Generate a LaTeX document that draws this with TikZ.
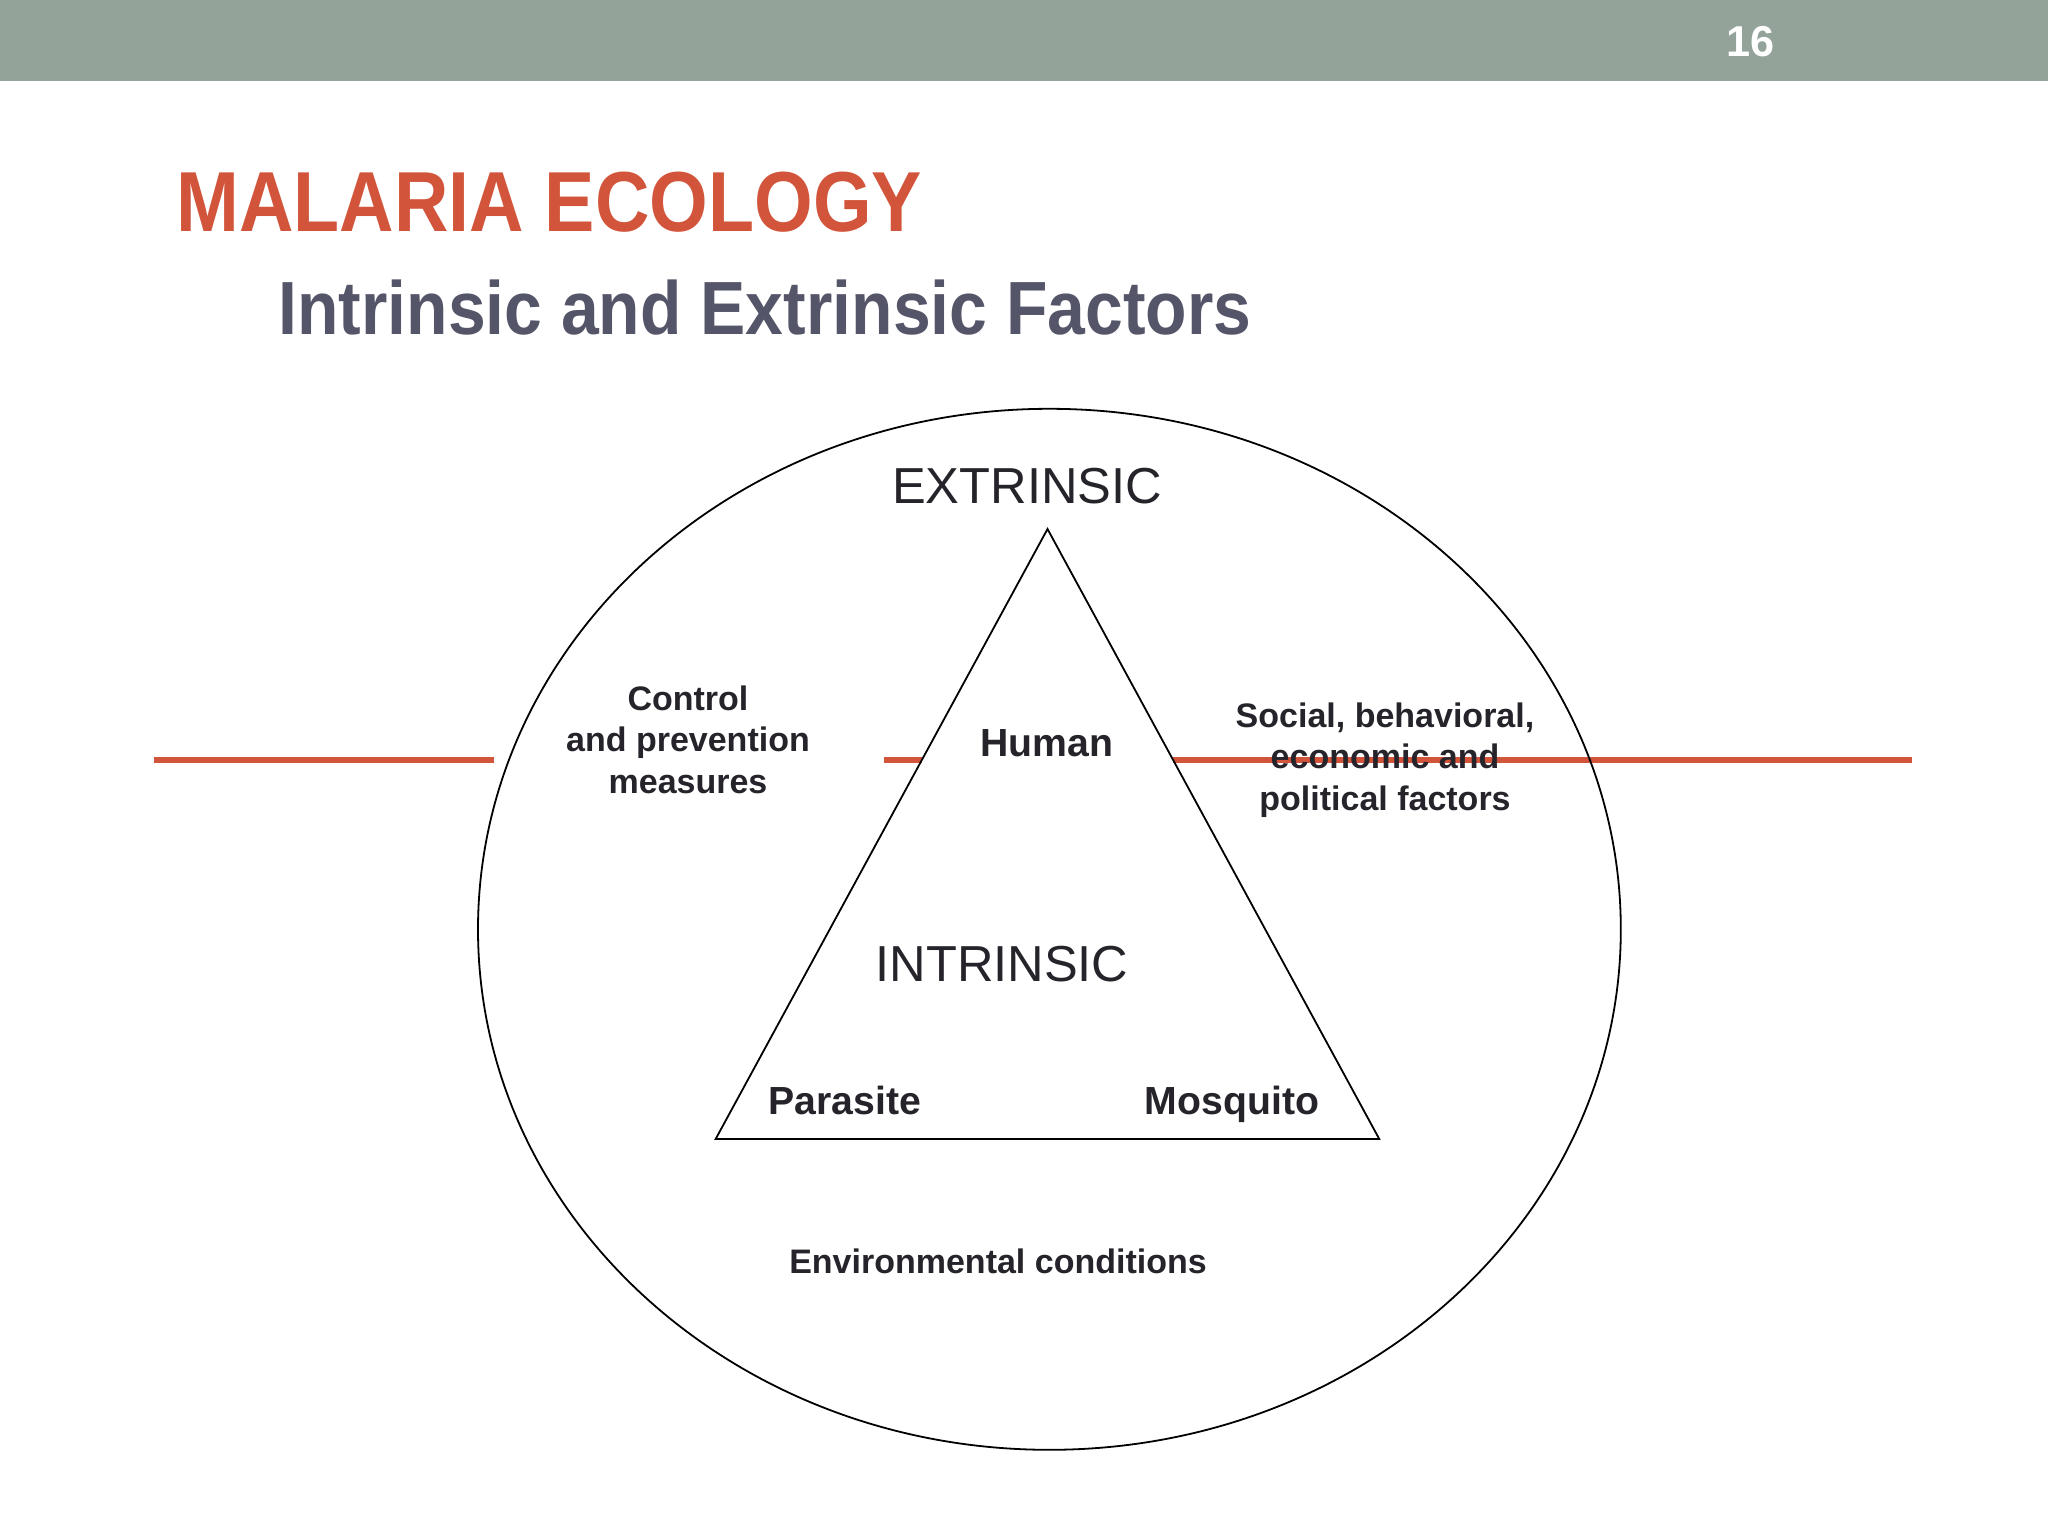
\documentclass[tikz,border=0pt]{standalone}
\usepackage{fontspec}
\setmainfont{Liberation Sans}
\usepackage{graphicx}
\usetikzlibrary{shapes.geometric}
\definecolor{barcol}{RGB}{147,163,154}
\definecolor{titlered}{RGB}{210,84,58}
\definecolor{subcol}{RGB}{85,85,106}
\definecolor{txt}{RGB}{38,36,42}
\tikzset{
  lbl/.style={inner sep=0pt, text=txt, font=\fontsize{17}{20.75}\selectfont\bfseries, align=center, anchor=base},
  biglbl/.style={inner sep=0pt, text=txt, font=\fontsize{19.6}{23}\selectfont\bfseries, anchor=base},
  caplbl/.style={inner sep=0pt, text=txt, font=\fontsize{25.3}{30}\selectfont, anchor=base},
  redline/.style={draw=titlered, line width=2.8pt},
  outl/.style={draw=black, line width=0.9pt}
}
\begin{document}
\begin{tikzpicture}[x=0.5pt,y=-0.5pt]
\useasboundingbox (0,0) rectangle (2048,1536);
\fill[white] (0,0) rectangle (2048,1536);
\fill[barcol] (0,0) rectangle (2048,81);
\node[text=white, font=\fontsize{21.6}{24}\selectfont\bfseries, inner sep=0pt] (num) at (1750,42) {16};
\node[anchor=base west, inner sep=0pt, text=titlered, font=\fontsize{42.6}{48}\selectfont\bfseries] (title) at (176,231) {\scalebox{0.885}[1]{MALARIA ECOLOGY}};
\node[anchor=base west, inner sep=0pt, text=subcol, font=\fontsize{37.7}{42}\selectfont\bfseries] (sub) at (278,334) {\scalebox{0.9}[1]{Intrinsic and Extrinsic Factors}};
% red lines
\coordinate (r1a) at (154,760); \coordinate (r1b) at (494,760);
\coordinate (r2a) at (884,760); \coordinate (r2b) at (922,760);
\coordinate (r3a) at (1173,760); \coordinate (r3b) at (1912,760);
\draw[redline] (r1a) -- (r1b);
\draw[redline] (r2a) -- (r2b);
\draw[redline] (r3a) -- (r3b);
% ellipse
\node[outl, ellipse, minimum width=571.4pt, minimum height=520.5pt, inner sep=0pt] (ell) at (1049.4,929.3) {};
% triangle
\coordinate (apex) at (1047.5,529);
\coordinate (bl) at (715.7,1138.9);
\coordinate (br) at (1379.2,1138.9);
\draw[outl, line join=miter] (apex) -- (bl) -- (br) -- cycle;
% labels
\node[caplbl] (ext) at (1027,503) {EXTRINSIC};
\node[caplbl] (intr) at (1002,981) {INTRINSIC};
\node[biglbl] (human) at (1047,756) {Human};
\node[biglbl] (par) at (845,1114) {Parasite};
\node[biglbl] (mos) at (1232,1114) {Mosquito};
\node[lbl] (ctrl) at (688,793) {Control\\and prevention\\measures};
\node[lbl] (soc) at (1385,810) {Social, behavioral,\\economic and\\political factors};
\node[lbl] (env) at (998,1273) {Environmental conditions};
\end{tikzpicture}
\end{document}
